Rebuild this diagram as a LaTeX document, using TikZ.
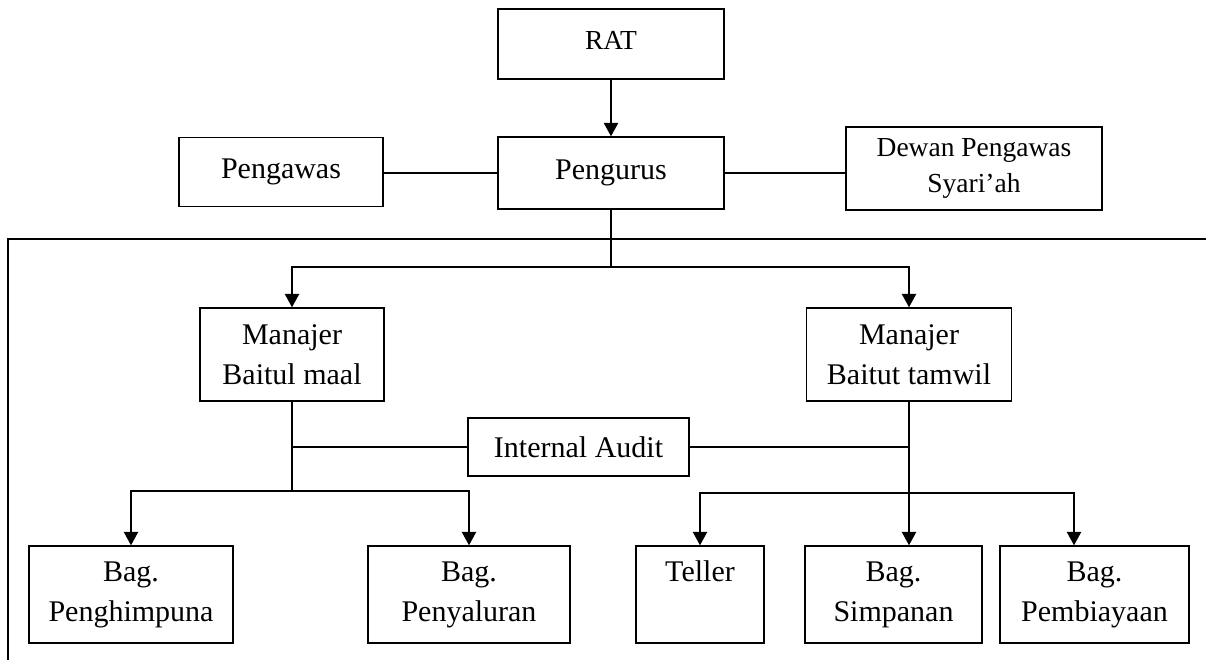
\documentclass[tikz,border=0pt]{standalone}
\usepackage{fontspec}
\setmainfont{Liberation Serif}
\usetikzlibrary{positioning,arrows.meta}

\begin{document}
\begin{tikzpicture}[x=0.4pt,y=-0.4pt,
    box/.style={draw=black,line width=0.6pt,inner sep=0pt,align=center,
      font=\fontsize{12pt}{16pt}\selectfont},
    small/.style={font=\fontsize{11pt}{14.4pt}\selectfont},
    link/.style={draw=black,line width=0.5pt},
    arr/.style={link,-{Triangle[length=5.4pt,width=5.8pt]}}]

    \useasboundingbox (0,0) rectangle (1206,660);

    % top level
    \node[box,small,minimum width=90.4pt,minimum height=28pt] (rat) at (611,44) {\raisebox{3.2pt}{RAT}};
    \node[box,minimum width=90.4pt,minimum height=28.8pt] (pengurus) at (611,173) {Pengurus};
    \node[box,minimum width=81.6pt,minimum height=27.6pt] (pengawas) at (281,172) {Pengawas};
    \node[box,small,minimum width=102.4pt,minimum height=33.2pt] (dps) at (974,168.5) {Dewan Pengawas\\Syari'ah};

    % managers and audit
    \node[box,minimum width=73.6pt,minimum height=37.2pt] (mbm) at (292,354.5) {Manajer\\Baitul maal};
    \node[box,minimum width=82pt,minimum height=37.2pt] (mbt) at (909,354.5) {Manajer\\Baitut tamwil};
    \node[box,minimum width=88.4pt,minimum height=23.2pt] (audit) at (578.5,447) {Internal Audit};

    % bottom row
    \node[box,minimum width=81.6pt,minimum height=38.8pt] (bag1) at (131,594.5) {Bag.\\Penghimpuna};
    \node[box,minimum width=80.8pt,minimum height=38.8pt] (bag2) at (469,594.5) {Bag.\\Penyaluran};
    \node[box,minimum width=51.2pt,minimum height=38.8pt] (teller) at (700,594.5) {Teller\\\phantom{Pg}};
    \node[box,minimum width=70.8pt,minimum height=38.8pt] (bag3) at (893.5,594.5) {Bag.\\Simpanan};
    \node[box,minimum width=75.6pt,minimum height=38.8pt] (bag4) at (1094.5,594.5) {Bag.\\Pembiayaan};

    \coordinate (frameL) at (8,239);
    \coordinate (frameR) at (1206,239);
    \coordinate (frameB) at (8,660);
    \coordinate (split) at (611,267);
    \coordinate (splitL) at (292,491);
    \coordinate (splitR) at (909,493);

    \draw[arr] (rat) -- (pengurus);
    \draw[link] (pengawas.east |- pengurus.west) -- (pengurus.west);
    \draw[link] (pengurus.east) -- (pengurus.east -| dps.west);
    \draw[link] (frameR) -- (frameL) -- (frameB); %outer line

    \draw[link] (pengurus.south) -- (split);
    \draw[arr] (split) -| (mbm.north);
    \draw[arr] (split) -| (mbt.north);

    \draw[link] (mbm.south) -- (splitL);
    \draw[link] (mbm.south |- audit.west) -- (audit.west);
    \foreach \b in {bag1,bag2}
      \draw[arr] (splitL) -| (\b.north);

    \draw[arr] (mbt.south) -- (mbt.south |- bag3.north);
    \draw[link] (audit.east) -- (audit.east -| mbt.south);
    \draw[arr] (splitR) -| (teller.north);
    \draw[arr] (splitR) -| ([xshift=-8.2pt]bag4.north);
\end{tikzpicture}
\end{document}
